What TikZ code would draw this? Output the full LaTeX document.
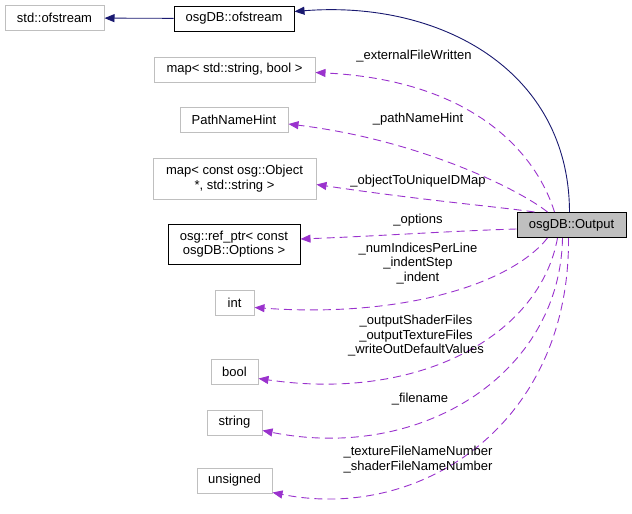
\documentclass[tikz,border=0pt]{standalone}
\usepackage{fontspec}
\setmainfont{Liberation Sans}
\usetikzlibrary{arrows.meta}
\definecolor{edgeblue}{HTML}{191970}
\definecolor{edgepurple}{HTML}{9A32CD}
\definecolor{boxgray}{HTML}{BFBFBF}
\tikzset{
  cls/.style={draw=boxgray, line width=1pt, minimum height=25pt, inner xsep=8pt, align=center, font=\fontsize{13}{14.5}\selectfont},
  clsb/.style={cls, draw=black},
  mainbox/.style={clsb, fill=boxgray},
  lbl/.style={align=center, inner sep=0pt, font=\fontsize{13}{14.5}\selectfont},
  inherit/.style={draw=edgeblue, line width=0.9pt, -{Triangle[length=10pt,width=8pt]}},
  usage/.style={draw=edgepurple, line width=0.9pt, dash pattern=on 8pt off 5pt, -{Triangle[length=10pt,width=8pt]}}
}
\begin{document}
\begin{tikzpicture}[x=1pt, y=-1pt]
  \useasboundingbox (0,0) rectangle (632,514);

  % Define class nodes
  \node[cls, minimum width=99pt] (stdofs) at (54.5,18) {std::ofstream};
  \node[clsb, minimum width=120pt] (osgofs) at (234,18.5) {osgDB::ofstream};
  \node[cls, minimum width=161pt] (mapsb) at (234.5,69.5) {map< std::string, bool >};
  \node[cls, minimum width=108pt] (pnh) at (234,120) {PathNameHint};
  \node[cls, minimum width=163pt, minimum height=41pt, inner ysep=1pt] (mapobj) at (234.5,178.5) {map< const osg::Object\\*, std::string >};
  \node[clsb, minimum width=132pt, minimum height=40pt, inner ysep=1pt] (refopt) at (234,244) {osg::ref\_ptr< const\\osgDB::Options >};
  \node[cls, minimum width=39pt] (tint) at (234.5,302.5) {int};
  \node[cls, minimum width=47pt] (tbool) at (234.5,371.5) {bool};
  \node[cls, minimum width=55pt] (tstring) at (234.5,422.5) {string};
  \node[cls, minimum width=75pt] (tunsigned) at (234.5,480.5) {unsigned};
  \node[mainbox, minimum width=109pt] (output) at (571.5,225) {osgDB::Output};

  % Inheritance edges
  \draw[inherit] (osgofs) -- (stdofs);
  \draw[inherit] ([xshift=-2pt]output.north) .. controls (569,70) and (440,0) .. ([yshift=7pt]osgofs.east);

  % Member edges
  \draw[usage] ([xshift=-17pt]output.north) .. controls (535,150) and (470,80) .. ([yshift=-3pt]mapsb.east);
  \draw[usage] ([xshift=-24pt]output.north) .. controls (520,190) and (420,140) .. ([yshift=-4pt]pnh.east);
  \draw[usage] ([xshift=-37pt]output.north) .. controls (500,207) and (420,200) .. ([yshift=-6pt]mapobj.east);
  \draw[usage] ([yshift=-4pt]output.west) .. controls (450,231) and (380,236) .. ([yshift=5pt]refopt.east);
  \draw[usage] ([xshift=-24pt]output.south) .. controls (510,285) and (400,318) .. ([yshift=-5pt]tint.east);
  \draw[usage] ([xshift=-14pt]output.south) .. controls (540,335) and (420,402) .. ([yshift=-7pt]tbool.east);
  \draw[usage] ([xshift=-9pt]output.south) .. controls (560,375) and (420,462) .. ([yshift=-8pt]tstring.east);
  \draw[usage] ([xshift=-3pt]output.south) .. controls (570,425) and (420,522) .. ([yshift=-12pt]tunsigned.east);

  % Edge labels
  \node[lbl] (lext) at (414,56) {\_externalFileWritten};
  \node[lbl] (lpnh) at (418,119) {\_pathNameHint};
  \node[lbl] (lobj) at (418,181) {\_objectToUniqueIDMap};
  \node[lbl] (lopt) at (418,220) {\_options};
  \node[lbl] (lint) at (418,263.5) {\_numIndicesPerLine\\\_indentStep\\\_indent};
  \node[lbl] (lbool) at (416,336) {\_outputShaderFiles\\\_outputTextureFiles\\\_writeOutDefaultValues};
  \node[lbl] (lstr) at (420,399) {\_filename};
  \node[lbl] (luns) at (418,459.5) {\_textureFileNameNumber\\\_shaderFileNameNumber};
\end{tikzpicture}
\end{document}
